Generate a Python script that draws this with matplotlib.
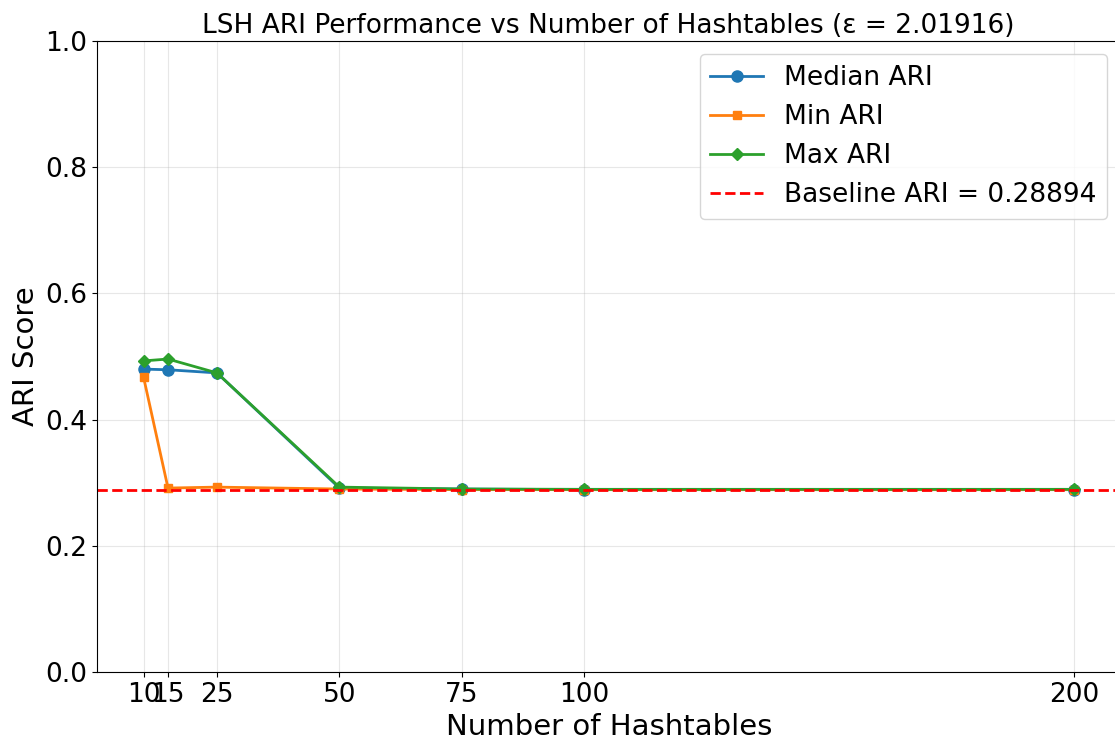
import numpy as np
import matplotlib
matplotlib.use("Agg")
import matplotlib.pyplot as plt

# ----- donnees -----
n_hashtables = [10, 15, 25, 50, 75, 100, 200]
median_ari = [0.480, 0.479, 0.474, 0.2915, 0.290, 0.2890, 0.2890]
min_ari = [0.4675, 0.2915, 0.293, 0.290, 0.2890, 0.2890, 0.2890]
max_ari = [0.493, 0.496, 0.474, 0.293, 0.290, 0.2895, 0.2895]
baseline_ari = 0.28894
epsilon = 2.01916

fig = plt.figure(figsize=(11.15, 7.4), dpi=100)
ax = fig.add_axes([97 / 1115, 1 - 672 / 740, (1120.5 - 97) / 1115, (672 - 41) / 740])

ax.plot(n_hashtables, median_ari, marker='o', markersize=8, linewidth=2, label='Median ARI')
ax.plot(n_hashtables, min_ari, marker='s', markersize=6, linewidth=2, label='Min ARI')
ax.plot(n_hashtables, max_ari, marker='D', markersize=6, linewidth=2, label='Max ARI')
ax.axhline(baseline_ari, color='red', linestyle='--', linewidth=2, label=f'Baseline ARI = {baseline_ari}')

ax.set_ylim(0, 1)
ax.set_xticks(n_hashtables)
ax.tick_params(labelsize=19)
ax.set_xlabel('Number of Hashtables', fontsize=21)
ax.set_ylabel('ARI Score', fontsize=21)
ax.set_title(f'LSH ARI Performance vs Number of Hashtables (ε = {epsilon})', fontsize=19)
ax.grid(True, alpha=0.3)
ax.legend(fontsize=19, loc='upper right')

fig.savefig('out.png', dpi=100)
